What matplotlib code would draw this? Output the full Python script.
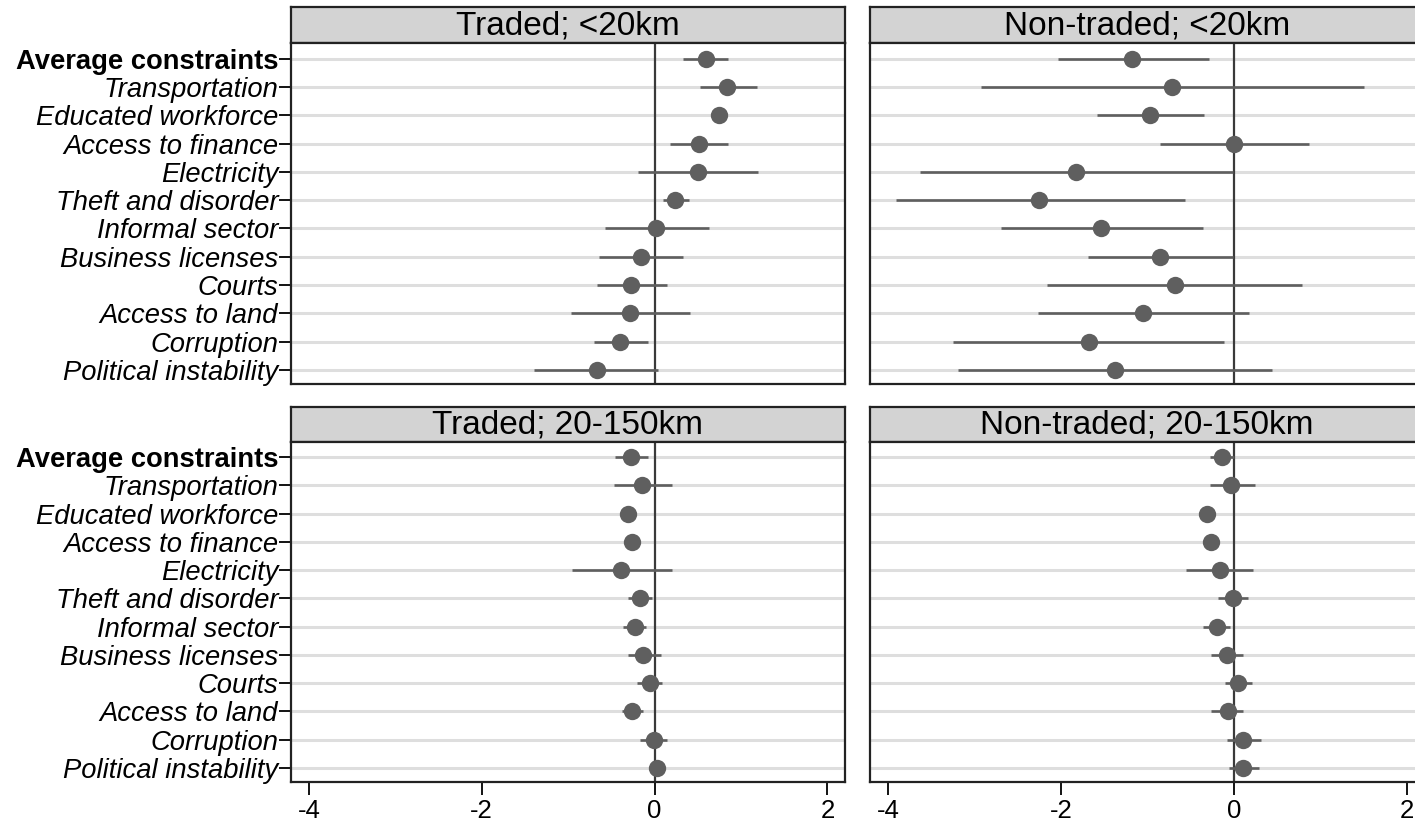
import matplotlib
matplotlib.use("Agg")
import matplotlib.pyplot as plt

plt.rcParams['font.family'] = ['Liberation Sans', 'DejaVu Sans']

labels = ["Average constraints", "Transportation", "Educated workforce", "Access to finance",
          "Electricity", "Theft and disorder", "Informal sector", "Business licenses",
          "Courts", "Access to land", "Corruption", "Political instability"]

titles = ["Traded; <20km", "Non-traded; <20km", "Traded; 20-150km", "Non-traded; 20-150km"]

# point estimates and 95% CI bounds
traded_near = [0.59, 0.84, 0.74, 0.51, 0.50, 0.24, 0.02, -0.16, -0.27, -0.28, -0.40, -0.67]
traded_near_lo = [0.33, 0.52, 0.68, 0.18, -0.19, 0.10, -0.57, -0.64, -0.67, -0.97, -0.70, -1.39]
traded_near_hi = [0.85, 1.19, 0.80, 0.85, 1.20, 0.40, 0.63, 0.33, 0.14, 0.41, -0.08, 0.04]

nontraded_near = [-1.18, -0.72, -0.97, 0.00, -1.83, -2.25, -1.54, -0.85, -0.68, -1.05, -1.68, -1.38]
nontraded_near_lo = [-2.04, -2.93, -1.58, -0.85, -3.63, -3.91, -2.70, -1.69, -2.16, -2.27, -3.25, -3.19]
nontraded_near_hi = [-0.29, 1.51, -0.35, 0.87, -0.01, -0.57, -0.36, -0.01, 0.79, 0.17, -0.11, 0.44]

traded_far = [-0.27, -0.14, -0.31, -0.26, -0.39, -0.17, -0.23, -0.13, -0.05, -0.26, -0.01, 0.03]
traded_far_lo = [-0.46, -0.47, -0.36, -0.30, -0.95, -0.31, -0.37, -0.31, -0.20, -0.38, -0.17, -0.04]
traded_far_hi = [-0.08, 0.20, -0.26, -0.22, 0.20, -0.03, -0.10, 0.07, 0.09, -0.13, 0.14, 0.10]

nontraded_far = [-0.14, -0.03, -0.31, -0.26, -0.16, -0.01, -0.19, -0.08, 0.05, -0.07, 0.11, 0.11]
nontraded_far_lo = [-0.28, -0.28, -0.36, -0.30, -0.55, -0.18, -0.36, -0.27, -0.10, -0.27, -0.08, -0.06]
nontraded_far_hi = [0.00, 0.24, -0.24, -0.22, 0.22, 0.16, -0.04, 0.10, 0.21, 0.11, 0.31, 0.29]

xticks = [-4, -2, 0, 2]

W, H = 1415, 822
DOT = '#5f5f5f'
GRID = '#dedede'


def px_axes(fig, x0, y0, x1, y1):
    # pixel box (top-left origin) -> figure axes
    return fig.add_axes([x0 / W, 1 - y1 / H, (x1 - x0) / W, (y1 - y0) / H])


def panel(fig, box, title, est, lo, hi, show_y, show_x):
    x0, ytop, ystrip, ybot = box
    x1 = x0 + 554

    # header strip
    hax = px_axes(fig, x0, ytop, x1, ystrip)
    hax.set_facecolor('#d3d3d3')
    hax.set_xticks([])
    hax.set_yticks([])
    for s in hax.spines.values():
        s.set_linewidth(1.6)
        s.set_color('#222222')
    hax.text(0.5, 0.47, title, ha='center', va='center', fontsize=24, transform=hax.transAxes)

    ax = px_axes(fig, x0, ystrip, x1, ybot)
    rows = list(range(len(labels)))
    for r in rows:
        ax.axhline(r, color=GRID, lw=2.2, zorder=1)
    ax.axvline(0, color='#3a3a3a', lw=1.6, zorder=2)
    ax.hlines(rows, lo, hi, color=DOT, lw=1.9, zorder=3)
    ax.plot(est, rows, 'o', color=DOT, ms=12.5, mec='none', zorder=4)

    ax.set_xlim(-4.21, 2.2)
    ax.set_ylim(len(labels) - 0.5, -0.55)
    for s in ax.spines.values():
        s.set_linewidth(1.6)
        s.set_color('#222222')

    ax.set_yticks(rows)
    if show_y:
        ax.set_yticklabels(labels, fontsize=19.7)
        for i, t in enumerate(ax.get_yticklabels()):
            if i == 0:
                t.set_fontweight('bold')
            else:
                t.set_fontstyle('italic')
        ax.tick_params(axis='y', length=9, width=1.3, pad=0)
    else:
        ax.set_yticklabels([])
        ax.tick_params(axis='y', length=0)

    ax.set_xticks(xticks)
    if show_x:
        ax.set_xticklabels([str(v) for v in xticks], fontsize=18.5)
        ax.tick_params(axis='x', length=9, width=1.3, pad=3)
    else:
        ax.set_xticklabels([])
        ax.tick_params(axis='x', length=0)
    return ax


fig = plt.figure(figsize=(W / 100, H / 100), dpi=100)

panel(fig, (290.7, 7.3, 43.3, 384), titles[0], traded_near, traded_near_lo, traded_near_hi, True, False)
panel(fig, (870, 7.3, 43.3, 384), titles[1], nontraded_near, nontraded_near_lo, nontraded_near_hi, False, False)
panel(fig, (290.7, 406.7, 441.7, 782), titles[2], traded_far, traded_far_lo, traded_far_hi, True, True)
panel(fig, (870, 406.7, 441.7, 782), titles[3], nontraded_far, nontraded_far_lo, nontraded_far_hi, False, True)

fig.savefig('out.png', dpi=100, facecolor='white')
